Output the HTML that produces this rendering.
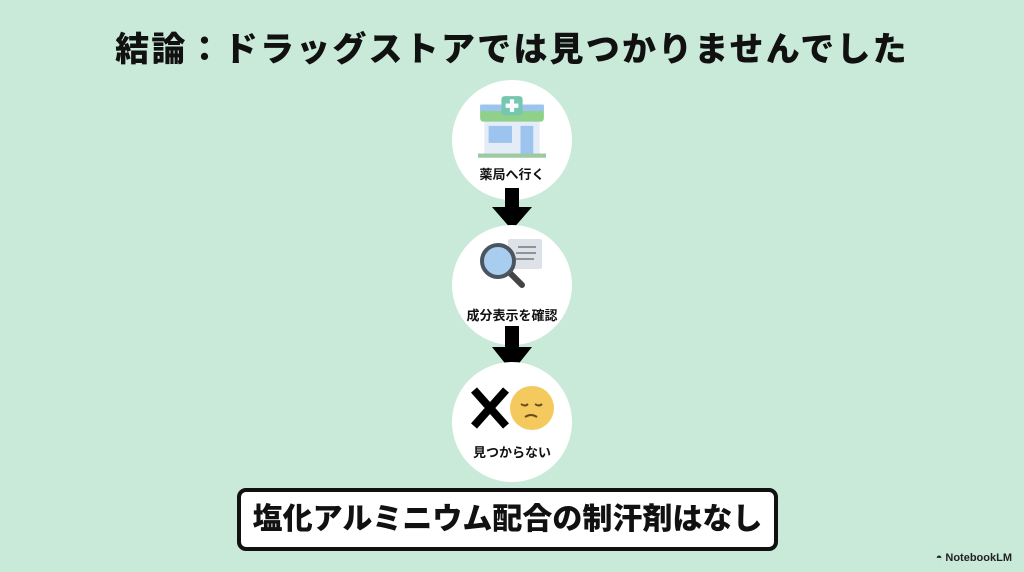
<!DOCTYPE html>
<html><head><meta charset="utf-8"><style>
body{margin:0;width:1024px;height:572px;background:#c9ead9;position:relative;overflow:hidden;font-family:"Liberation Sans","Noto Sans CJK JP",sans-serif}
.t{position:absolute;top:22px;left:0;width:1024px;text-align:center;font-size:34px;font-weight:900;color:#111;letter-spacing:2.2px}
.c{position:absolute;left:452px;width:120px;height:120px;border-radius:50%;background:#fff}
.l{position:absolute;left:0;width:120px;text-align:center;font-size:13px;font-weight:700;color:#111}
.ar{position:absolute;left:492px}
.box{position:absolute;left:237px;top:488px;width:533px;height:55px;border:4px solid #111;border-radius:9px;background:#fff;text-align:center;line-height:55px;font-size:30px;font-weight:900;color:#111}
.nb{position:absolute;right:12px;bottom:8px;font-size:11px;font-weight:700;color:#222}
</style></head><body>
<div class="t">結論：ドラッグストアでは見つかりませんでした</div>
<div class="c" style="top:80px">
<svg style="position:absolute;left:26px;top:16px" width="68" height="64" viewBox="0 0 64 60">
<rect x="6" y="22" width="52" height="32" fill="#e3ecf7"/><rect x="0" y="54" width="64" height="4" fill="#9ec9a2"/>
<rect x="2" y="8" width="60" height="16" rx="3" fill="#8fd08a"/><rect x="2" y="8" width="60" height="6" fill="#9cc4ee"/>
<rect x="22" y="0" width="20" height="18" rx="3" fill="#76c7b0"/><rect x="30" y="3" width="4" height="12" fill="#fff"/><rect x="26" y="7" width="12" height="4" fill="#fff"/>
<rect x="10" y="28" width="22" height="16" fill="#9cc4ee"/><rect x="40" y="28" width="12" height="26" fill="#9cc4ee"/></svg>
<div class="l" style="top:84px">薬局へ行く</div></div>
<svg class="ar" style="top:188px" width="40" height="42"><rect x="13" y="0" width="14" height="20" fill="#000"/><polygon points="0,19 40,19 20,42" fill="#000"/></svg>
<div class="c" style="top:225px">
<svg style="position:absolute;left:28px;top:12px" width="66" height="62" viewBox="0 0 66 62">
<rect x="28" y="2" width="34" height="30" rx="2" fill="#dde2e8"/><path d="M38 10h18M36 16h20M36 22h18" stroke="#777" stroke-width="1.5"/>
<line x1="28" y1="34" x2="42" y2="48" stroke="#444" stroke-width="6" stroke-linecap="round"/>
<circle cx="18" cy="24" r="16" fill="#a9cdee" stroke="#4a5560" stroke-width="4"/></svg>
<div class="l" style="top:80px">成分表示を確認</div></div>
<svg class="ar" style="top:326px" width="40" height="46"><rect x="13" y="0" width="14" height="22" fill="#000"/><polygon points="0,21 40,21 20,46" fill="#000"/></svg>
<div class="c" style="top:362px">
<svg style="position:absolute;left:18px;top:22px" width="86" height="48" viewBox="0 0 86 48">
<path d="M4 6L36 42M36 6L4 42" stroke="#000" stroke-width="8"/>
<circle cx="62" cy="24" r="22" fill="#f4c95d"/><path d="M51 20q4 3 7 0M65 20q4 3 7 0M55 33q6-4 12 0" stroke="#6b4a1e" stroke-width="2" fill="none"/></svg>
<div class="l" style="top:80px">見つからない</div></div>
<div class="box">塩化アルミニウム配合の制汗剤はなし</div>
<div class="nb">◓ NotebookLM</div>
</body></html>
